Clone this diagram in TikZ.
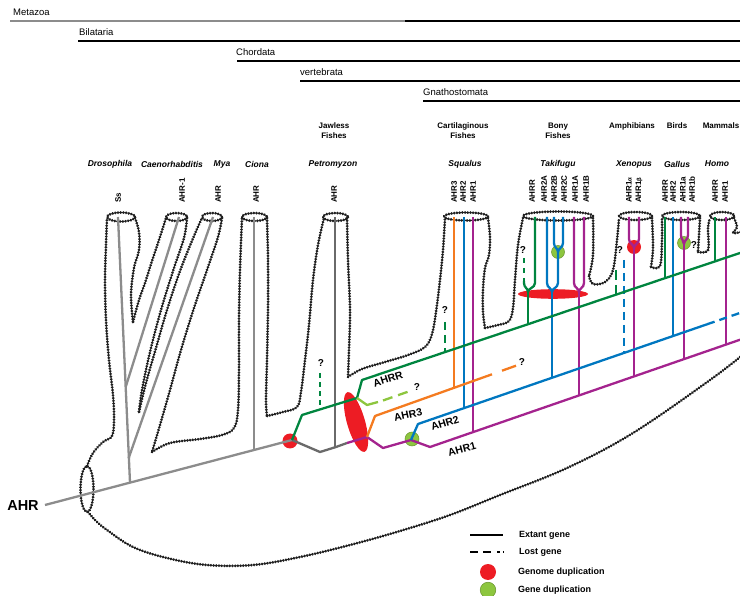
\documentclass[tikz,border=0pt]{standalone}
\usepackage{fontspec}
\setmainfont{Liberation Sans}
\definecolor{cgreen}{HTML}{00853F}
\definecolor{clgreen}{HTML}{8DC63F}
\definecolor{corange}{HTML}{F47B20}
\definecolor{cblue}{HTML}{0077C0}
\definecolor{cpurple}{HTML}{A4238E}
\definecolor{cred}{HTML}{ED1C24}
\definecolor{cgray}{HTML}{8C8C8C}
\definecolor{cdgray}{HTML}{6A6A6A}
\begin{document}
\begin{tikzpicture}[x=1pt,y=-1pt,
  outl/.style={line width=2.9pt, dash pattern=on 0.1pt off 2.6pt, line cap=round, draw=black!88},
  gl/.style={line width=2.3pt},
  lost/.style={line width=2.3pt, dash pattern=on 8pt off 5pt},
  cladeline/.style={line width=1.2pt},
  clade/.style={font=\fontsize{9.5}{11}\selectfont, anchor=west, inner sep=0pt},
  grp/.style={font=\bfseries\fontsize{8}{10}\selectfont, align=center, inner sep=0pt},
  spc/.style={font=\bfseries\itshape\fontsize{8.5}{10}\selectfont, inner sep=0pt},
  gen/.style={font=\bfseries\fontsize{8}{9}\selectfont, rotate=90, anchor=west, inner sep=0pt},
  qm/.style={font=\bfseries\fontsize{10}{12}\selectfont, inner sep=0pt},
  lbl/.style={font=\bfseries\fontsize{10.5}{12}\selectfont, inner sep=0pt},
  leg/.style={font=\bfseries\fontsize{9}{11}\selectfont, anchor=west, inner sep=0pt},
  gdup/.style={fill=clgreen, draw=clgreen!75!black, line width=0.5pt},
  gnm/.style={fill=cred}
]
\useasboundingbox (0,0) rectangle (740,596);
\clip (0,0) rectangle (740,596);

% ---------- clade bars ----------
\node[clade] (metazoa) at (13,12) {Metazoa};
\draw[cladeline, cgray] (10,21) -- (405,21);
\draw[cladeline] (405,21) -- (740,21);
\node[clade] (bilat) at (79,32) {Bilataria};
\draw[cladeline] (78,41) -- (740,41);
\node[clade] (chord) at (236,52) {Chordata};
\draw[cladeline] (237,61) -- (740,61);
\node[clade] (vert) at (300,72) {vertebrata};
\draw[cladeline] (300,81) -- (740,81);
\node[clade] (gnath) at (423,92) {Gnathostomata};
\draw[cladeline] (423,101) -- (740,101);

% ---------- group & species labels ----------
\node[grp] (g1) at (334,131) {Jawless\\Fishes};
\node[grp] (g2) at (463,131) {Cartilaginous\\Fishes};
\node[grp] (g3) at (558,131) {Bony\\Fishes};
\node[grp] (g4) at (632,126) {Amphibians};
\node[grp] (g5) at (677,126) {Birds};
\node[grp] (g6) at (721,126) {Mammals};

\node[spc] (s1) at (110,164) {Drosophila};
\node[spc] (s2) at (172,164) {Caenorhabditis};
\node[spc] (s3) at (222,164) {Mya};
\node[spc] (s4) at (257,164) {Ciona};
\node[spc] (s5) at (333,164) {Petromyzon};
\node[spc] (s6) at (465,164) {Squalus};
\node[spc] (s7) at (558,164) {Takifugu};
\node[spc] (s8) at (634,164) {Xenopus};
\node[spc] (s9) at (677,164) {Gallus};
\node[spc] (s10) at (717,164) {Homo};

% gene labels
\node[gen] (l1) at (118,203) {Ss};
\node[gen] (l2) at (182,203) {AHR-1};
\node[gen] (l3) at (218,203) {AHR};
\node[gen] (l4) at (256,203) {AHR};
\node[gen] (l5) at (334,203) {AHR};
\node[gen] (l6) at (454,203) {AHR3};
\node[gen] (l7) at (463,203) {AHR2};
\node[gen] (l8) at (473,203) {AHR1};
\node[gen] (l9) at (532,203) {AHRR};
\node[gen] (l10) at (544,203) {AHR2A};
\node[gen] (l11) at (554,203) {AHR2B};
\node[gen] (l12) at (564,203) {AHR2C};
\node[gen] (l13) at (575,203) {AHR1A};
\node[gen] (l14) at (586,203) {AHR1B};
\node[gen] (l15) at (629,203) {AHR1{\fontsize{6}{6}\selectfont α}};
\node[gen] (l16) at (639,203) {AHR1{\fontsize{6}{6}\selectfont β}};
\node[gen] (l17) at (665,203) {AHRR};
\node[gen] (l18) at (673,203) {AHR2};
\node[gen] (l19) at (683,203) {AHR1a};
\node[gen] (l20) at (692,203) {AHR1b};
\node[gen] (l21) at (715,203) {AHRR};
\node[gen] (l22) at (725,203) {AHR1};

% ---------- dotted body outline ----------
\draw[outl] plot[smooth, tension=0.6] coordinates {(87,466) (93,453) (103,442) (112,436) (114,420) (113,395) (109,360) (106,320) (105,280) (106,245) (107,218)};
\draw[outl] plot[smooth, tension=0.6] coordinates {(135,218) (139,232) (139,250) (134,268) (131,295) (133,322)};
\draw[outl] plot[smooth, tension=0.6] coordinates {(133,322) (139,300) (145,283) (152,261) (159,240) (166,218)};
\draw[outl] plot[smooth, tension=0.6] coordinates {(187,218) (184,238) (174,268) (161,310) (150,352) (142,390) (139,412)};
\draw[outl] plot[smooth, tension=0.6] coordinates {(139,412) (146,383) (156,348) (167,310) (180,271) (194,236) (202,218)};
\draw[outl] plot[smooth, tension=0.6] coordinates {(222,218) (218,237) (207,270) (194,308) (181,350) (170,390) (160,425) (152,452)};
\draw[outl] plot[smooth, tension=0.6] coordinates {(152,452) (170,443) (200,439) (222,435) (234,428) (238,410) (239,370) (239,320) (240,270) (242,218)};
\draw[outl] plot[smooth, tension=0.6] coordinates {(267,218) (268,260) (268,310) (267,360) (266,400) (267,416)};
\draw[outl] plot[smooth, tension=0.6] coordinates {(267,416) (283,412) (297,407) (301,392) (305,360) (309,325) (313,280) (318,245) (324,218)};
\draw[outl] plot[smooth, tension=0.6] coordinates {(347,218) (348,260) (350,310) (349,350) (348,377)};
\draw[outl] plot[smooth, tension=0.6] coordinates {(348,377) (362,369) (385,362) (408,355) (425,347) (432,334) (436,312) (440,280) (443,250) (445,218)};
\draw[outl] plot[smooth, tension=0.6] coordinates {(488,218) (490,237) (489,255) (485,268) (483,290) (483,312) (485,328)};
\draw[outl] plot[smooth, tension=0.6] coordinates {(485,328) (498,325) (509,321) (513,308) (515,280) (518,245) (523,218)};
\draw[outl] plot[smooth, tension=0.6] coordinates {(593,218) (593,255) (589,276)};
\draw[outl] plot[smooth, tension=0.6] coordinates {(589,276) (593,284) (605,282) (613,270) (617,240) (619,218)};
\draw[outl] plot[smooth, tension=0.6] coordinates {(652,218) (653,248) (651,267)};
\draw[outl] plot[smooth, tension=0.6] coordinates {(651,267) (660,266) (662,240) (662,218)};
\draw[outl] plot[smooth, tension=0.6] coordinates {(700,218) (698,252)};
\draw[outl] plot[smooth, tension=0.6] coordinates {(698,252) (708,250) (708,228) (710,218)};
\draw[outl] plot[smooth, tension=0.6] coordinates {(734,218) (737,227) (733,233) (741,232)};
\draw[outl] plot[smooth, tension=0.6] coordinates {(88,512) (96,521) (107,530) (133,547) (167,558) (207,565) (253,565) (300,557) (350,545) (400,531) (450,515) (500,495) (567,468) (633,433) (710,380) (745,353)};
% ring and tube tops
\draw[outl] (87,489) ellipse (6.5 and 23);
\draw[outl] (121,217) ellipse (14 and 4.5);
\draw[outl] (176.5,217) ellipse (10.5 and 4);
\draw[outl] (212,217) ellipse (10 and 4);
\draw[outl] (254.5,217) ellipse (12.5 and 4);
\draw[outl] (335.5,217) ellipse (12.5 and 4);
\draw[outl] (466,216.5) ellipse (22 and 4);
\draw[outl] (558,216) ellipse (35 and 4.5);
\draw[outl] (635.5,216) ellipse (16.5 and 4);
\draw[outl] (681,216) ellipse (19 and 4);
\draw[outl] (722,216) ellipse (12 and 4);

% ---------- duplication marks (under the lines) ----------
\fill[gnm] (290,441) circle (7.5);
\fill[gnm, rotate around={16:(356,422)}] (356,422) ellipse (9 and 31);
\fill[gnm] (553,294) ellipse (35 and 4.8);
\fill[gnm] (634,247) circle (7);
\draw[gdup] (412,439) circle (7);
\draw[gdup] (558,252) circle (6.5);
\draw[gdup] (684,243) circle (6.5);

% ---------- key coordinates ----------
\coordinate (root) at (45,505);
\coordinate (wgd1) at (292,440);
\coordinate (gDro) at (130,482.6);
\coordinate (gCae) at (125.7,387);
\coordinate (gMya) at (128.7,458);
\coordinate (gCio) at (254,450);

% ---------- gray lineages ----------
\draw[gl, cgray] (root) -- (wgd1);
\draw[gl, cgray] (118,217) -- (gDro);
\draw[gl, cgray] (179,217) -- (gCae);
\draw[gl, cgray] (213,217) -- (gMya);
\draw[gl, cgray] (254,217) -- (gCio);
\draw[gl, cdgray, line join=round] (wgd1) -- (320,452) -- (336,447) -- (347,443);
\draw[gl, cdgray] (335,217) -- (335,447);

% ---------- AHR1 (purple) ----------
\draw[gl, cpurple, line join=round] (347,443) -- (367,437) -- (383,448) -- (411,440) -- (430,447) -- (745,338);
\draw[gl, cpurple] (473,217) -- (473,432.1);
\draw[gl, cpurple] (574,217) -- (574,283) .. controls (574,288) and (579,288) .. (579,292);
\draw[gl, cpurple] (584,217) -- (584,283) .. controls (584,288) and (579,288) .. (579,292);
\draw[gl, cpurple] (579,291) -- (579,395.4);
\draw[gl, cpurple] (629,217) -- (629,239) .. controls (629,244) and (634,244) .. (634,248);
\draw[gl, cpurple] (639,217) -- (639,239) .. controls (639,244) and (634,244) .. (634,248);
\draw[gl, cpurple] (634,247) -- (634,376.4);
\draw[gl, cpurple] (681,217) -- (681,235) .. controls (681,240) and (684,240) .. (684,244);
\draw[gl, cpurple] (688,217) -- (688,235) .. controls (688,240) and (684,240) .. (684,244);
\draw[gl, cpurple] (684,243) -- (684,359.1);
\draw[gl, cpurple] (726,217) -- (726,344.6);

% ---------- AHR2 (blue) ----------
\draw[gl, cblue, line join=round] (411,440) -- (418,424) -- (707,324.3);
\draw[lost, cblue] (707,324.3) -- (745,311.2);
\draw[gl, cblue] (464,217) -- (464,407.1);
\draw[gl, cblue] (547,217) -- (547,283) .. controls (547,288) and (552,288) .. (552,292);
\draw[gl, cblue] (558,252) -- (558,283) .. controls (558,288) and (552,288) .. (552,292);
\draw[gl, cblue] (554,217) -- (554,243) .. controls (554,248) and (558,248) .. (558,252);
\draw[gl, cblue] (563,217) -- (563,243) .. controls (563,248) and (558,248) .. (558,252);
\draw[gl, cblue] (552,291) -- (552,376.8);
\draw[lost, cblue] (624,260) -- (624,351.6);
\draw[gl, cblue] (673,217) -- (673,335);

% ---------- AHR3 (orange) ----------
\draw[gl, corange, line join=round] (367,437) -- (375,416) -- (492,374.3);
\draw[gl, corange] (502,370.7) -- (516,365.7);
\draw[gl, corange] (454,217) -- (454,387.8);

% ---------- AHRR (green) ----------
\draw[gl, cgreen, line join=round] (wgd1) -- (302,415) -- (357,398) -- (362,380) -- (745,251.3);
\draw[gl, clgreen, line join=round] (357,398) -- (367,405) -- (378,402);
\draw[lost, clgreen, dash pattern=on 10pt off 6pt] (383,400.5) -- (410,391);
\draw[lost, cgreen, dash pattern=on 5pt off 4pt] (320,373) -- (320,409);
\draw[lost, cgreen] (445,322) -- (445,352);
\draw[lost, cgreen, dash pattern=on 5pt off 5pt] (524,258) -- (524,281);
\draw[gl, cgreen] (524,281) -- (524,283) .. controls (524,288) and (528,288) .. (528,292);
\draw[gl, cgreen] (535,217) -- (535,283) .. controls (535,288) and (528,288) .. (528,292);
\draw[gl, cgreen] (528,291) -- (528,324.2);
\draw[lost, cgreen, dash pattern=on 10pt off 5pt] (616,270) -- (616,295);
\draw[gl, cgreen] (665,217) -- (665,278.2);
\draw[gl, cgreen] (715,217) -- (715,261.4);

% ---------- question marks ----------
\node[qm] (q1) at (321,363) {?};
\node[qm] (q2) at (417,387) {?};
\node[qm] (q3) at (522,362) {?};
\node[qm] (q4) at (445,310) {?};
\node[qm] (q5) at (523,250) {?};
\node[qm] (q6) at (620,250) {?};
\node[qm] (q7) at (694,245) {?};

% ---------- lineage labels ----------
\node[font=\bfseries\fontsize{14.5}{16}\selectfont, inner sep=0pt] (ahr) at (23,506) {AHR};
\node[lbl, rotate=18] (ahrr) at (388,379) {AHRR};
\node[lbl, rotate=12] (ahr3) at (408,415) {AHR3};
\node[lbl, rotate=17] (ahr2) at (445,423) {AHR2};
\node[lbl, rotate=15] (ahr1) at (462,449) {AHR1};

% ---------- legend ----------
\coordinate (e1) at (470,535); \coordinate (e2) at (503,535);
\draw[gl, line width=2.4pt] (e1) -- (e2);
\node[leg] (t1) at (519,535) {Extant gene};
\coordinate (f1) at (470,552); \coordinate (f2) at (504,552);
\draw[line width=2.4pt, dash pattern=on 8pt off 5pt on 8pt off 6pt on 3pt off 3pt] (f1) -- (f2);
\node[leg] (t2) at (519,552) {Lost gene};
\fill[gnm] (488,572) circle (8);
\node[leg] (t3) at (518,572) {Genome duplication};
\draw[gdup] (488,590) circle (7.8);
\node[leg] (t4) at (518,590) {Gene duplication};
\end{tikzpicture}
\end{document}
